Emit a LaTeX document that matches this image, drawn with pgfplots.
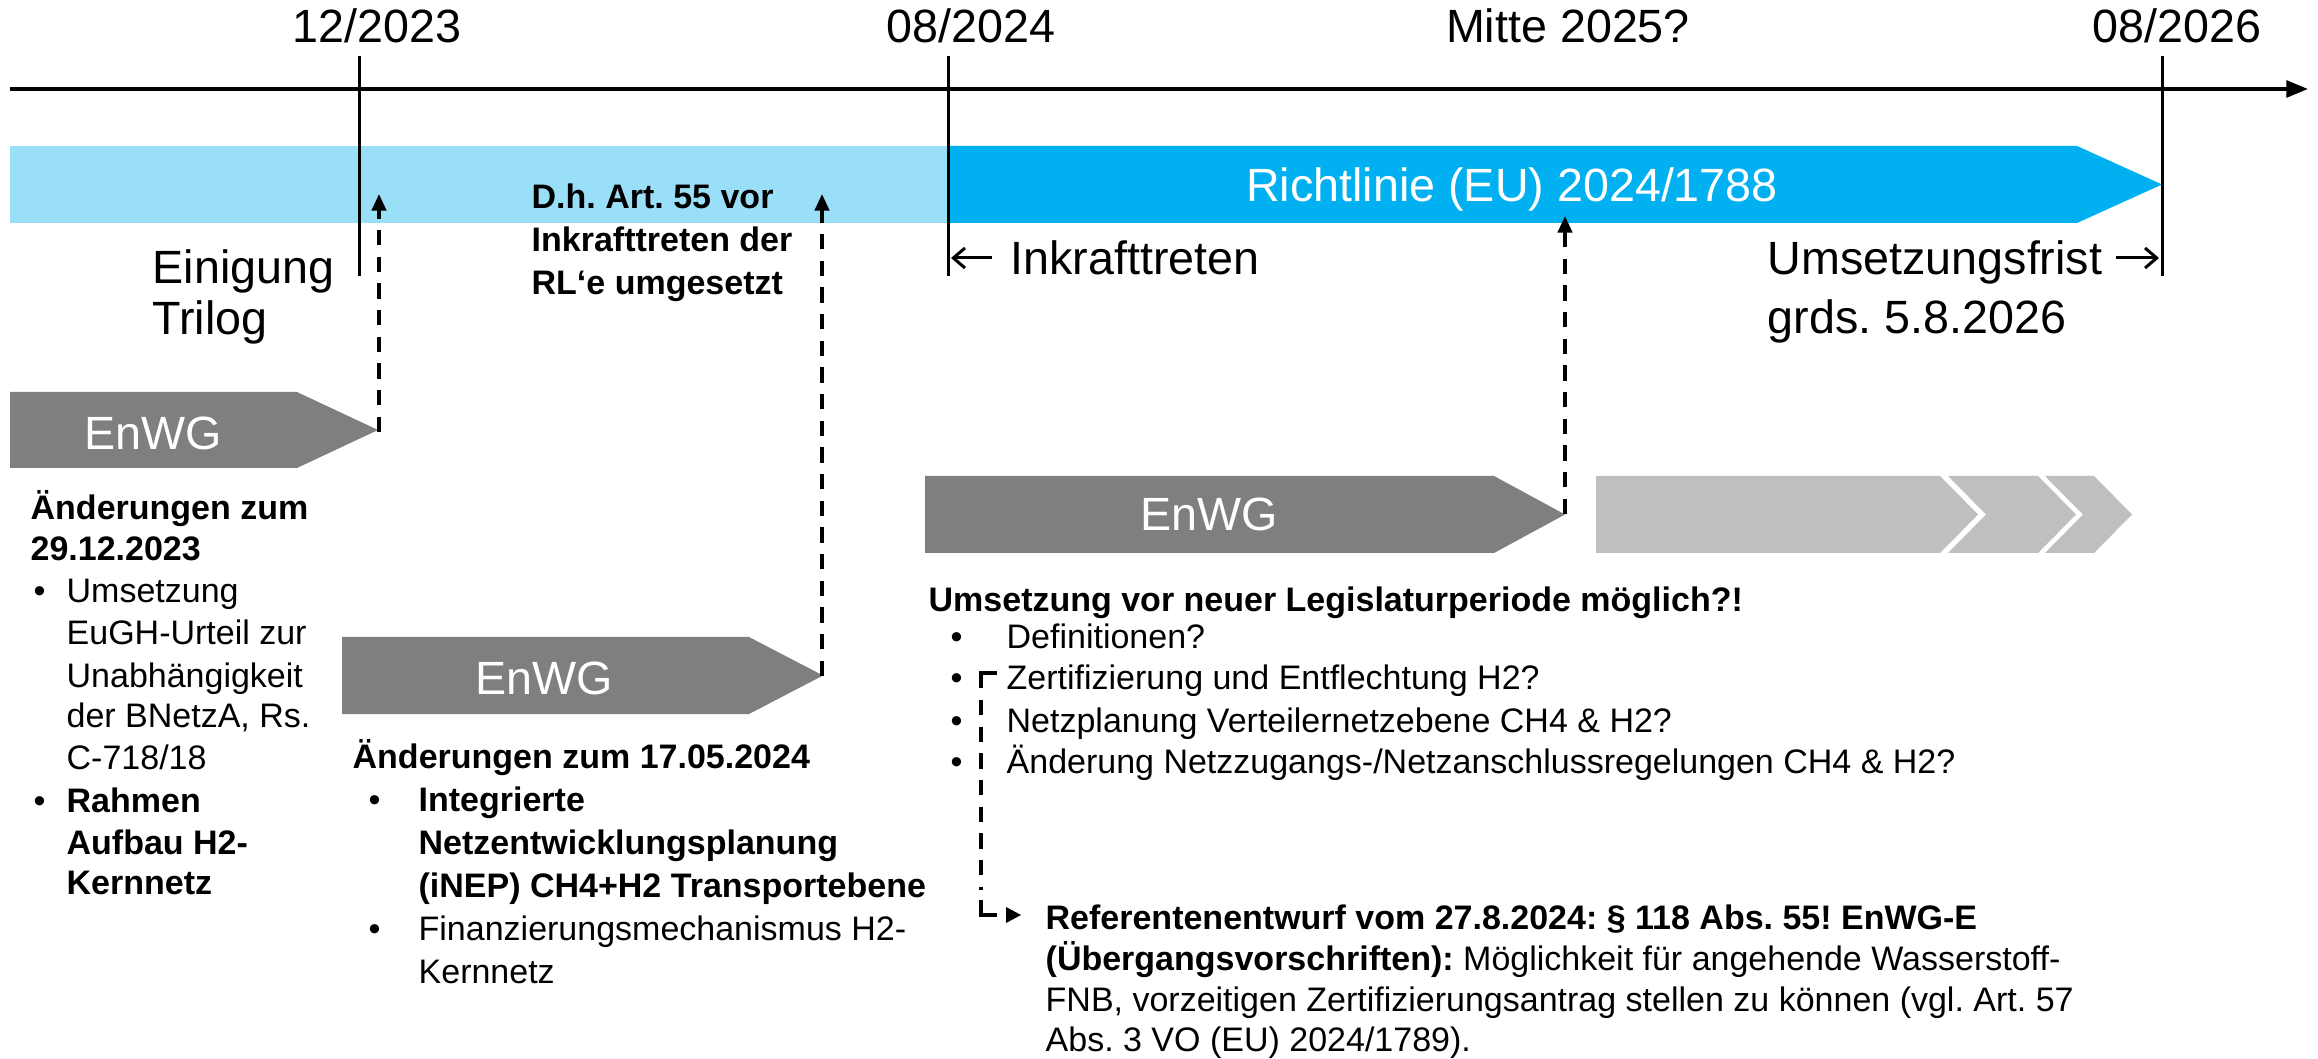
\documentclass[border=0pt]{standalone}
\usepackage{pgfplots}
\pgfplotsset{compat=1.18}
\usepackage{fontspec}
\setmainfont{Liberation Sans}
\usetikzlibrary{arrows.meta}
\definecolor{lblue}{HTML}{9ADFF8}
\definecolor{dblue}{HTML}{00B0F0}
\definecolor{dgrey}{HTML}{7F7F7F}
\definecolor{lgrey}{HTML}{BFBFBF}
\newcommand{\bigfs}{\fontsize{14}{16}\selectfont}
\newcommand{\bodyfs}{\fontsize{10.2}{12}\selectfont}
\tikzset{
  B/.style={anchor=base west, inner sep=0pt, font=\bigfs},
  Bc/.style={anchor=base, inner sep=0pt, font=\bigfs},
  T/.style={anchor=base west, inner sep=0pt, font=\bodyfs},
  TB/.style={anchor=base west, inner sep=0pt, font=\bodyfs\bfseries},
  dsh/.style={black, line width=1.05pt, dash pattern=on 4.6pt off 3.4pt},
}
\frenchspacing
\begin{document}
\begin{tikzpicture}
\begin{axis}[
  scale only axis, width=695.4pt, height=317.7pt,
  xmin=0, xmax=2318, ymin=0, ymax=1059, y dir=reverse,
  hide axis, clip=false, no markers]
% bounding box
\addplot[draw=none] coordinates {(0,0) (2318,1059)};
% bands
\addplot[fill=lblue, draw=none] coordinates {(10,146) (949,146) (949,223) (10,223)} -- cycle;
\addplot[fill=dblue, draw=none] coordinates {(948,146) (2077,146) (2162,184.5) (2077,223) (948,223)} -- cycle;
% EnWG arrows
\addplot[fill=dgrey, draw=none] coordinates {(10,392) (297,392) (378,430) (297,468) (10,468)} -- cycle;
\addplot[fill=dgrey, draw=none] coordinates {(342,637) (749,637) (823,675.5) (749,714) (342,714)} -- cycle;
\addplot[fill=dgrey, draw=none] coordinates {(925,476) (1494,476) (1565,514.5) (1494,553) (925,553)} -- cycle;
% light grey chevrons
\addplot[fill=lgrey, draw=none] coordinates {(1596,476) (1940,476) (1978,514.5) (1940,553) (1596,553)} -- cycle;
\addplot[fill=lgrey, draw=none] coordinates {(1948,476) (2038,476) (2076,514.5) (2038,553) (1948,553) (1986,514.5)} -- cycle;
\addplot[fill=lgrey, draw=none] coordinates {(2045,476) (2094,476) (2132,514.5) (2094,553) (2045,553) (2083,514.5)} -- cycle;
% timeline
\addplot[black, line width=1.1pt, -{Triangle[width=5pt,length=6.5pt]}] coordinates {(10,89) (2308,89)};
\addplot[black, line width=0.9pt] coordinates {(359,56) (359,276)};
\addplot[black, line width=0.9pt] coordinates {(948,56) (948,276)};
\addplot[black, line width=0.9pt] coordinates {(2162,56) (2162,276)};
% dashed arrows
\addplot[dsh, -{Triangle[width=4.3pt,length=5pt]}] coordinates {(379,432) (379,194)};
\addplot[dsh, -{Triangle[width=4.3pt,length=5pt]}] coordinates {(822,676) (822,194)};
\addplot[dsh, -{Triangle[width=4.3pt,length=5pt]}] coordinates {(1565,514) (1565,216)};
% bracket
\addplot[black, line width=1.05pt] coordinates {(997,673) (981,673) (981,688)};
\addplot[dsh] coordinates {(981,700) (981,890)};
\addplot[black, line width=1.05pt] coordinates {(981,900) (981,915) (997,915)};
\addplot[fill=black, draw=none] coordinates {(1006,907) (1021,915) (1006,923)} -- cycle;
% small arrows next to text
\addplot[black, line width=0.9pt, -{Straight Barb[width=6pt,length=3.5pt]}] coordinates {(992,258) (951,258)};
\addplot[black, line width=0.9pt, -{Straight Barb[width=6pt,length=3.5pt]}] coordinates {(2116,258) (2159,258)};
% top labels
\node[Bc] at (axis cs:377,43) {12/2023};
\node[Bc] at (axis cs:971,43) {08/2024};
\node[Bc] at (axis cs:1568,43) {Mitte 2025?};
\node[Bc] at (axis cs:2177,43) {08/2026};
% band texts
\node[Bc, text=white] at (axis cs:1512,202) {Richtlinie (EU) 2024/1788};
\node[B] at (axis cs:152,284) {Einigung};
\node[B] at (axis cs:152,335) {Trilog};
\node[TB] at (axis cs:531,209) {D.h. Art. 55 vor};
\node[TB] at (axis cs:531,252) {Inkrafttreten der};
\node[TB] at (axis cs:531,295) {RL‘e umgesetzt};
\node[B] at (axis cs:1010,275) {Inkrafttreten};
\node[B] at (axis cs:1767,275) {Umsetzungsfrist};
\node[B] at (axis cs:1767,334) {grds. 5.8.2026};
% EnWG labels
\node[Bc, text=white] at (axis cs:153,450) {EnWG};
\node[Bc, text=white] at (axis cs:544,694) {EnWG};
\node[Bc, text=white] at (axis cs:1209,531) {EnWG};
% block 1
\node[TB] at (axis cs:30,520) {Änderungen zum};
\node[TB] at (axis cs:30,560) {29.12.2023};
\node[T] at (axis cs:33,602) {•};
\node[T] at (axis cs:66,602) {Umsetzung};
\node[T] at (axis cs:66,644) {EuGH-Urteil zur};
\node[T] at (axis cs:66,687) {Unabhängigkeit};
\node[T] at (axis cs:66,727) {der BNetzA, Rs.};
\node[T] at (axis cs:66,769) {C-718/18};
\node[T] at (axis cs:33,812) {•};
\node[TB] at (axis cs:66,812) {Rahmen};
\node[TB] at (axis cs:66,854) {Aufbau H2-};
\node[TB] at (axis cs:66,894) {Kernnetz};
% block 2
\node[TB] at (axis cs:352,768) {Änderungen zum 17.05.2024};
\node[T] at (axis cs:368,811) {•};
\node[TB] at (axis cs:418,811) {Integrierte};
\node[TB] at (axis cs:418,854) {Netzentwicklungsplanung};
\node[TB] at (axis cs:418,897) {(iNEP) CH4+H2 Transportebene};
\node[T] at (axis cs:368,940) {•};
\node[T] at (axis cs:418,940) {Finanzierungsmechanismus H2-};
\node[T] at (axis cs:418,983) {Kernnetz};
% block 3
\node[TB] at (axis cs:928,612) {Umsetzung vor neuer Legislaturperiode möglich?!};
\node[T] at (axis cs:950,649) {•};
\node[T] at (axis cs:1006,649) {Definitionen?};
\node[T] at (axis cs:950,690) {•};
\node[T] at (axis cs:1006,690) {Zertifizierung und Entflechtung H2?};
\node[T] at (axis cs:950,732) {•};
\node[T] at (axis cs:1006,732) {Netzplanung Verteilernetzebene CH4 \& H2?};
\node[T] at (axis cs:950,773) {•};
\node[T] at (axis cs:1006,773) {Änderung Netzzugangs-/Netzanschlussregelungen CH4 \& H2?};
% block 4
\node[TB] at (axis cs:1045,929) {Referentenentwurf vom 27.8.2024: § 118 Abs. 55! EnWG-E};
\node[T] at (axis cs:1045,970) {\textbf{(Übergangsvorschriften):} Möglichkeit für angehende Wasserstoff-};
\node[T] at (axis cs:1045,1011) {FNB, vorzeitigen Zertifizierungsantrag stellen zu können (vgl. Art. 57};
\node[T] at (axis cs:1045,1051) {Abs. 3 VO (EU) 2024/1789).};
\end{axis}
\end{tikzpicture}
\end{document}
